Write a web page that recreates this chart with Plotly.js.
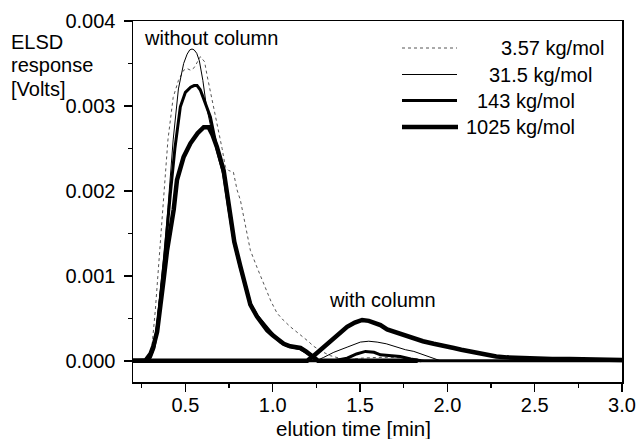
<!DOCTYPE html>
<html>
<head>
<meta charset="utf-8">
<script src="https://cdn.plot.ly/plotly-3.0.1.min.js"></script>
<style>html,body{margin:0;padding:0;background:#fff;}#chart{width:639px;height:439px;}</style>
</head>
<body>
<div id="chart"></div>
<script>
// ---- data: without column ----
const tWo357 = [0.20,0.28,0.30,0.31,0.328,0.347,0.376,0.40,0.43,0.46,0.49,0.51,0.53,0.55,0.586,0.61,0.624,0.65,0.68,0.71,0.729,0.748,0.775,0.796,0.815,0.85,0.872,0.91,0.949,0.99,1.025,1.06,1.101,1.15,1.197,1.235,1.28,1.33,1.40,1.97];
const yWo357 = [0,0.00001,0.0001,0.0002,0.0006,0.00111,0.00189,0.0026,0.0031,0.0033,0.00342,0.00344,0.00342,0.00345,0.00358,0.00352,0.00336,0.0031,0.00283,0.0025,0.00228,0.00224,0.00222,0.00201,0.00189,0.0015,0.0013,0.0011,0.00091,0.0007,0.00056,0.00048,0.0004,0.00032,0.00024,0.00017,0.00011,0.00006,0.00002,0];

const tWo315 = [0.20,0.28,0.30,0.32,0.34,0.36,0.38,0.40,0.43,0.46,0.49,0.51,0.525,0.538,0.55,0.565,0.58,0.60,0.62,0.653,0.68,0.719,0.748,0.78,0.815,0.845,0.872,0.91,0.949,1.00,1.044,1.08,1.12,1.16,1.19,1.216,1.24,1.26,1.80];
const yWo315 = [0,0.00001,0.00005,0.0002,0.0005,0.0009,0.0013,0.0018,0.0026,0.0032,0.0035,0.00361,0.00366,0.00367,0.00366,0.00362,0.00353,0.0033,0.003,0.00268,0.0025,0.00222,0.0018,0.0014,0.0011,0.00087,0.00067,0.00053,0.00043,0.00031,0.00022,0.00018,0.00016,0.00014,0.0001,0.00007,0.00003,0,0];

const tWo143 = [0.20,0.28,0.30,0.32,0.34,0.36,0.38,0.414,0.44,0.471,0.50,0.53,0.55,0.567,0.585,0.60,0.643,0.68,0.719,0.748,0.78,0.815,0.845,0.872,0.91,0.949,1.00,1.044,1.08,1.12,1.16,1.19,1.216,1.24,1.26,1.85];
const yWo143 = [0,0.00001,0.00004,0.00015,0.0004,0.0008,0.0012,0.00197,0.0025,0.00299,0.00316,0.00322,0.00324,0.00324,0.00319,0.00311,0.00287,0.0025,0.0022,0.0018,0.0014,0.0011,0.00087,0.00067,0.00053,0.00043,0.00031,0.00022,0.00018,0.00016,0.00014,0.0001,0.00007,0.00003,0,0];

const tWo1025 = [0.20,0.27,0.30,0.318,0.338,0.357,0.375,0.395,0.415,0.433,0.452,0.49,0.529,0.57,0.605,0.633,0.655,0.68,0.719,0.748,0.78,0.815,0.845,0.872,0.91,0.968,1.00,1.063,1.10,1.13,1.159,1.19,1.216,1.24,1.26,1.83];
const yWo1025 = [0,0,0.00008,0.00018,0.00034,0.00062,0.00095,0.0013,0.00155,0.00178,0.00213,0.0024,0.00256,0.00268,0.00275,0.00275,0.00266,0.00252,0.00224,0.00181,0.0014,0.00111,0.00088,0.00066,0.00052,0.00036,0.0003,0.0002,0.00017,0.00016,0.00015,0.00011,0.00007,0.00003,0,0];

// ---- data: with column ----
const tW357 = [0.20,1.40,1.50,1.60,1.70,1.80,1.90,3.00];
const yW357 = [0,0,0.00003,0.00004,0.00004,0.00002,0,0];

const tW315 = [0.20,1.25,1.292,1.35,1.426,1.47,1.502,1.55,1.598,1.65,1.712,1.76,1.808,1.85,1.884,1.92,1.96,3.00];
const yW315 = [0,0,0.00004,0.0001,0.00016,0.0002,0.00022,0.00023,0.00022,0.0002,0.00016,0.00013,0.00011,0.00008,0.00005,0.00003,0,0];

const tW143 = [0.20,1.35,1.426,1.48,1.531,1.58,1.617,1.67,1.73,1.79,1.85,3.00];
const yW143 = [0,0,0.00003,0.00008,0.00011,0.0001,0.00007,0.00006,0.00005,0.00002,0,0];

const tW1025 = [0.20,1.197,1.235,1.292,1.33,1.38,1.426,1.47,1.512,1.55,1.579,1.617,1.655,1.70,1.75,1.808,1.86,1.922,1.98,2.037,2.08,2.132,2.18,2.228,2.28,2.342,2.42,2.514,2.60,2.70,2.80,2.90,3.00];
const yW1025 = [0,0,0.00006,0.00016,0.00024,0.00033,0.0004,0.00045,0.00048,0.00047,0.00045,0.00042,0.00037,0.00034,0.0003,0.00026,0.00023,0.0002,0.00018,0.00015,0.00013,0.00011,0.00009,0.00007,0.00005,0.00004,0.00003,0.00003,0.00002,0.00002,0.00002,0.00001,0.00001];

const seriesNames = ['3.57 kg/mol','31.5 kg/mol','143 kg/mol','1025 kg/mol'];
const xTickVals = [0.5,1.0,1.5,2.0,2.5,3.0];
const yTickVals = [0.000,0.001,0.002,0.003,0.004];

// ---- styles ----
const styles = [
  {color:'#555', width:1, dash:'dot'},
  {color:'#000', width:1, dash:'solid'},
  {color:'#000', width:3, dash:'solid'},
  {color:'#000', width:4.5, dash:'solid'}
];
const woT = [tWo357,tWo315,tWo143,tWo1025], woY = [yWo357,yWo315,yWo143,yWo1025];
const wT = [tW357,tW315,tW143,tW1025], wY = [yW357,yW315,yW143,yW1025];

const traces = [];
for (let i=0;i<4;i++){
  traces.push({x:woT[i], y:woY[i], type:'scatter', mode:'lines', name:seriesNames[i], legendgroup:'g'+i, showlegend:false, line:Object.assign({},styles[i])});
  traces.push({x:wT[i], y:wY[i], type:'scatter', mode:'lines', name:seriesNames[i], legendgroup:'g'+i, showlegend:false, line:Object.assign({},styles[i])});
}

// layout geometry (pixels)
const W=639,H=439, L=133, R=17, T=21, B=57;
const pw=W-L-R, ph=H-T-B;
const px=(x)=>(x-L)/pw, py=(y)=>(H-B-y)/ph;
const FONT='"Liberation Sans", Arial, Helvetica, sans-serif';

const legendRows = [
  {y:48, x0:402, x1:457, tx:499},
  {y:74.5, x0:402, x1:457, tx:487},
  {y:100.5, x0:402, x1:457, tx:475},
  {y:127, x0:402, x1:458, tx:464}
];
const shapes = legendRows.map((r,i)=>({type:'line', xref:'paper', yref:'paper', x0:px(r.x0), x1:px(r.x1), y0:py(r.y), y1:py(r.y), line:Object.assign({},styles[i])}));
const annotations = legendRows.map((r,i)=>({xref:'paper', yref:'paper', x:px(r.tx), y:py(r.y), xanchor:'left', yanchor:'middle', text:seriesNames[i], showarrow:false, font:{family:FONT,size:20,color:'#000'}}));
annotations.push({xref:'x', yref:'y', x:0.252, y:0.0038, xanchor:'left', yanchor:'middle', text:'without column', showarrow:false, font:{family:FONT,size:20,color:'#000'}});
annotations.push({xref:'x', yref:'y', x:1.311, y:0.000714, xanchor:'left', yanchor:'middle', text:'with column', showarrow:false, font:{family:FONT,size:20,color:'#000'}});
['ELSD','response','[Volts]'].forEach((s,i)=>{
  annotations.push({xref:'paper', yref:'paper', x:px(9), y:py(41.5+i*23.5), xanchor:'left', yanchor:'middle', text:s, showarrow:false, font:{family:FONT,size:20,color:'#000'}});
});
annotations.push({xref:'paper', yref:'paper', x:px(353), y:py(428), xanchor:'center', yanchor:'middle', text:'elution time [min]', showarrow:false, font:{family:FONT,size:20.5,color:'#000'}});

const layout = {
  width:W, height:H,
  margin:{l:L, r:R, t:T, b:B, pad:0},
  paper_bgcolor:'#fff', plot_bgcolor:'#fff',
  font:{family:FONT, size:20, color:'#000'},
  showlegend:false,
  xaxis:{range:[0.2,3.0], tickvals:xTickVals, ticktext:xTickVals.map(v=>v.toFixed(1)),
    ticks:'outside', ticklen:8, tickwidth:1.5, tickcolor:'#000', ticklabelstandoff:-4,
    showline:true, linecolor:'#000', linewidth:1.5, mirror:true,
    showgrid:false, zeroline:false, tickfont:{family:FONT,size:20,color:'#000'},
    minor:{dtick:0.25, tick0:0, ticks:'outside', ticklen:4, tickwidth:1.2, tickcolor:'#000', showgrid:false}},
  yaxis:{range:[-0.00025,0.004], tickvals:yTickVals, ticktext:yTickVals.map(v=>v.toFixed(3)),
    ticks:'outside', ticklen:8, tickwidth:1.5, tickcolor:'#000', ticklabelstandoff:4,
    showline:true, linecolor:'#000', linewidth:1.5, mirror:true,
    showgrid:false, zeroline:false, tickfont:{family:FONT,size:20,color:'#000'},
    minor:{dtick:0.0005, tick0:0, ticks:'outside', ticklen:4, tickwidth:1.2, tickcolor:'#000', showgrid:false}},
  shapes:shapes,
  annotations:annotations
};
Plotly.newPlot('chart', traces, layout, {staticPlot:true, displayModeBar:false});
</script>
</body>
</html>
